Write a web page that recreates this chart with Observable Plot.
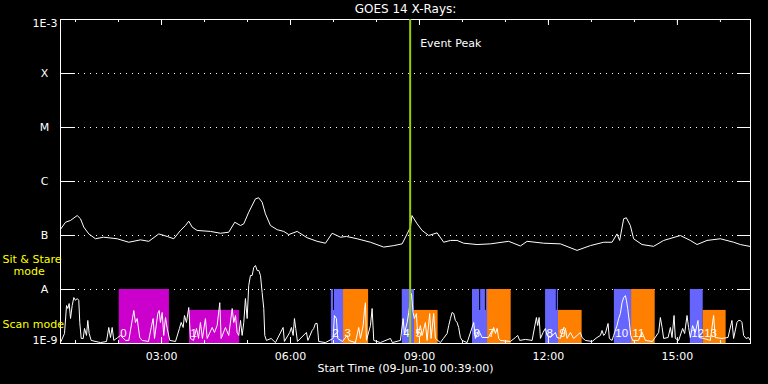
<!DOCTYPE html>
<html><head><meta charset="utf-8">
<script src="https://cdn.jsdelivr.net/npm/d3@7"></script>
<script src="https://cdn.jsdelivr.net/npm/@observablehq/plot@0.6"></script>
<style>html,body{margin:0;padding:0;background:#000;}#chart{width:768px;height:384px;}</style>
</head><body><div id="chart"></div>
<script>
// ---- DATA (times in minutes after 00:00 UT, 09-Jun-2010; flux in W/m^2) ----
const startTime = "00:39";
const endTime = "16:42";
const eventPeakTime = "08:47";

const levelFlux = [1e-3, 1e-4, 1e-5, 1e-6, 1e-7, 1e-8, 1e-9];
const levelLabel = ["1E-3", "X", "M", "C", "B", "A", "1E-9"];

const hourTicks = ["01:00","02:00","03:00","04:00","05:00","06:00","07:00","08:00","09:00","10:00","11:00","12:00","13:00","14:00","15:00","16:00"];
const majorTicks = ["03:00","06:00","09:00","12:00","15:00"];

// GOES 14 long channel (1-8 A)
const longChannel = [[39.5,1.33e-7],[46.0,1.76e-7],[53.0,1.90e-7],[62.3,2.34e-7],[66.9,2.04e-7],[71.5,1.43e-7],[78.5,1.07e-7],[87.8,8.7e-8],[99.0,9.3e-8],[118.1,8.7e-8],[134.3,7.5e-8],[150.6,8.3e-8],[162.2,7.8e-8],[176.2,1.07e-7],[187.9,9.6e-8],[197.1,8.7e-8],[206.4,1.24e-7],[213.4,1.53e-7],[218.0,1.84e-7],[222.8,1.43e-7],[229.7,1.24e-7],[248.3,1.19e-7],[262.3,1.10e-7],[273.8,1.15e-7],[282.2,1.76e-7],[290.2,1.53e-7],[294.8,1.65e-7],[301.7,2.70e-7],[311.1,4.78e-7],[315.7,4.99e-7],[320.4,4.14e-7],[325.0,2.52e-7],[332.0,1.53e-7],[341.4,1.28e-7],[350.6,1.19e-7],[357.5,1.04e-7],[369.3,1.19e-7],[383.2,9.1e-8],[397.2,7.8e-8],[408.8,7.2e-8],[418.1,1.10e-7],[429.7,9.3e-8],[438.1,9.6e-8],[453.0,8.7e-8],[471.6,7.5e-8],[490.1,6.1e-8],[504.1,6.5e-8],[515.8,7.0e-8],[522.8,1.07e-7],[527.4,1.43e-7],[529.5,2.34e-7],[536.7,1.65e-7],[543.7,1.24e-7],[552.9,1.0e-7],[564.6,1.12e-7],[573.8,7.5e-8],[583.2,8.1e-8],[592.5,8.1e-8],[601.7,7.2e-8],[620.4,6.8e-8],[639.0,7.0e-8],[664.5,7.8e-8],[680.8,6.4e-8],[690.2,7.8e-8],[713.4,7.2e-8],[736.7,7.0e-8],[759.9,5.3e-8],[778.5,6.5e-8],[797.1,7.5e-8],[808.8,7.5e-8],[815.7,1.07e-7],[819.4,8.1e-8],[825.0,2.04e-7],[828.7,2.13e-7],[834.3,1.53e-7],[838.9,8.7e-8],[850.6,6.8e-8],[866.8,6.3e-8],[880.8,8.1e-8],[904.1,1.0e-7],[918.0,8.1e-8],[927.4,6.8e-8],[941.3,8.1e-8],[959.9,8.7e-8],[978.5,7.5e-8],[987.8,6.8e-8],[1000.8,6.3e-8]];

// GOES 14 short channel (0.5-4 A)
const shortChannel = [[39.0,1.04e-9],[44.6,1.53e-9],[47.4,5.05e-9],[49.2,4.45e-9],[51.1,5.5e-9],[53.0,2.90e-9],[55.3,5.05e-9],[57.6,7.1e-9],[59.9,6.3e-9],[62.3,6.8e-9],[64.5,6.3e-9],[65.9,2.45e-9],[67.9,1.24e-9],[70.7,1.24e-9],[72.5,1.90e-9],[75.3,1.41e-9],[77.1,2.67e-9],[79.0,1.53e-9],[81.8,1.14e-9],[94.8,1.04e-9],[103.2,1.09e-9],[106.4,1.98e-9],[108.8,1.29e-9],[111.1,1.98e-9],[113.4,1.14e-9],[118.9,1.29e-9],[122.7,1.41e-9],[129.7,1.14e-9],[134.3,1.14e-9],[141.3,4.08e-9],[143.6,2.45e-9],[146.0,2.90e-9],[149.6,1.29e-9],[153.0,1.14e-9],[161.8,1.09e-9],[165.6,1.98e-9],[168.3,2.90e-9],[170.2,1.24e-9],[174.8,3.59e-9],[176.7,4.08e-9],[178.5,2.45e-9],[180.9,3.75e-9],[183.1,1.41e-9],[185.5,3.03e-9],[187.9,1.90e-9],[191.5,1.14e-9],[199.5,1.09e-9],[205.0,1.90e-9],[207.4,2.45e-9],[210.2,1.98e-9],[212.0,3.30e-9],[214.8,2.45e-9],[218.0,4.64e-9],[220.4,1.24e-9],[224.6,1.14e-9],[228.8,1.90e-9],[231.6,1.24e-9],[234.3,2.45e-9],[237.1,1.24e-9],[241.3,2.90e-9],[243.7,1.24e-9],[250.7,1.98e-9],[253.9,1.60e-9],[257.6,2.15e-9],[261.3,5.7e-9],[263.2,1.24e-9],[269.2,1.98e-9],[273.8,1.41e-9],[278.6,4.45e-9],[280.8,2.45e-9],[283.2,3.30e-9],[285.5,1.60e-9],[287.8,1.41e-9],[290.2,2.67e-9],[292.5,1.41e-9],[294.8,2.45e-9],[297.1,6.8e-9],[299.5,2.90e-9],[301.7,1.19e-8],[304.1,1.82e-8],[306.5,1.82e-8],[308.7,2.56e-8],[311.1,2.78e-8],[313.5,2.25e-8],[315.7,2.25e-8],[318.1,1.82e-8],[320.4,8.8e-9],[322.7,4.45e-9],[324.1,1.41e-9],[326.4,1.14e-9],[333.0,1.24e-9],[339.0,1.04e-9],[349.7,1.98e-9],[351.5,1.09e-9],[358.9,1.60e-9],[361.3,1.98e-9],[363.7,1.41e-9],[365.5,2.90e-9],[367.3,1.90e-9],[369.7,1.09e-9],[382.2,1.60e-9],[384.3,1.14e-9],[390.2,1.74e-9],[392.4,1.90e-9],[394.8,2.35e-9],[397.2,2.35e-9],[399.4,1.09e-9],[408.8,1.04e-9],[419.5,1.24e-9],[421.3,3.30e-9],[424.1,2.90e-9],[425.9,1.24e-9],[432.5,1.09e-9],[439.0,1.41e-9],[441.3,1.14e-9],[450.6,1.04e-9],[455.2,1.98e-9],[457.6,1.24e-9],[461.4,2.15e-9],[463.2,4.08e-9],[464.6,5.7e-9],[466.0,1.14e-9],[471.6,2.15e-9],[473.9,4.45e-9],[476.2,1.14e-9],[485.5,1.04e-9],[499.5,1.24e-9],[502.2,1.04e-9],[513.4,1.14e-9],[517.2,2.90e-9],[519.0,1.53e-9],[522.8,2.45e-9],[525.0,3.75e-9],[528.8,8.4e-9],[531.1,3.75e-9],[532.9,2.90e-9],[535.7,3.59e-9],[537.5,1.41e-9],[541.3,2.15e-9],[543.7,1.41e-9],[548.3,2.45e-9],[550.6,1.14e-9],[554.3,3.59e-9],[556.2,1.24e-9],[559.9,3.59e-9],[562.2,1.24e-9],[569.2,1.04e-9],[573.4,1.24e-9],[578.6,1.53e-9],[580.8,2.15e-9],[583.2,2.90e-9],[585.5,3.75e-9],[587.8,3.59e-9],[590.1,2.67e-9],[592.5,2.45e-9],[594.7,1.98e-9],[597.1,1.29e-9],[599.5,1.14e-9],[606.5,1.04e-9],[615.7,2.45e-9],[618.0,1.24e-9],[622.7,1.74e-9],[627.4,1.29e-9],[636.2,1.29e-9],[643.6,1.98e-9],[646.0,1.53e-9],[648.3,1.90e-9],[650.6,1.24e-9],[652.9,1.14e-9],[666.9,1.09e-9],[673.9,1.29e-9],[677.1,1.41e-9],[679.9,1.14e-9],[687.8,1.19e-9],[697.2,1.14e-9],[703.2,3.03e-9],[705.0,2.15e-9],[707.0,3.03e-9],[708.8,1.24e-9],[712.5,1.60e-9],[715.7,1.90e-9],[718.1,1.41e-9],[722.7,1.29e-9],[729.7,1.60e-9],[732.0,1.29e-9],[736.7,1.24e-9],[741.3,1.98e-9],[743.7,1.90e-9],[746.0,1.24e-9],[750.6,1.60e-9],[755.2,1.24e-9],[764.6,1.60e-9],[766.9,1.29e-9],[771.5,1.14e-9],[780.9,1.09e-9],[787.8,1.29e-9],[792.5,1.41e-9],[794.8,1.74e-9],[797.1,1.41e-9],[799.4,1.53e-9],[803.2,2.35e-9],[805.0,1.24e-9],[808.8,1.14e-9],[811.0,1.41e-9],[815.7,2.15e-9],[818.0,2.90e-9],[820.4,3.59e-9],[822.7,5.7e-9],[825.0,7.1e-9],[827.4,7.7e-9],[828.8,6.3e-9],[830.6,4.45e-9],[833.0,2.45e-9],[834.8,1.41e-9],[837.6,1.14e-9],[845.6,1.14e-9],[850.7,1.60e-9],[855.3,1.14e-9],[865.0,1.09e-9],[873.8,1.60e-9],[876.2,3.03e-9],[878.6,1.98e-9],[880.8,1.24e-9],[887.0,1.29e-9],[890.2,1.98e-9],[892.5,1.29e-9],[895.3,3.30e-9],[897.1,1.24e-9],[901.7,1.14e-9],[907.3,1.90e-9],[910.1,1.53e-9],[913.4,3.30e-9],[915.6,1.98e-9],[918.0,1.29e-9],[921.2,2.15e-9],[925.0,1.60e-9],[928.7,2.67e-9],[930.5,1.29e-9],[936.5,1.24e-9],[945.9,1.14e-9],[950.5,3.30e-9],[952.8,1.29e-9],[962.2,1.24e-9],[970.6,1.29e-9],[976.1,2.67e-9],[978.4,1.24e-9],[983.1,2.45e-9],[985.3,2.67e-9],[987.8,2.67e-9],[990.1,2.45e-9],[992.4,1.41e-9],[995.7,1.24e-9],[999.3,1.29e-9],[1001.7,1.14e-9]];

// Observation sequences
const obsId    = [0,1,2,3,4,5,6,7,8,9,10,11,12,13];
const obsStart = ["02:01","03:39","06:57","07:14","08:36","08:53","10:14","10:35","11:56","12:14","13:32","13:56","15:18","15:36"];
const obsEnd   = ["03:11","04:49","07:14","07:49","08:53","09:26","10:35","11:08","12:14","12:47","13:56","14:29","15:36","16:08"];
const obsGroup = ["prog1","prog1","prog2","prog3","prog2","prog3","prog2","prog3","prog2","prog3","prog2","prog3","prog2","prog3"];
const obsMode  = ["stare","scan","stare","stare","stare","scan","stare","stare","stare","scan","stare","stare","stare","scan"];
// short breaks inside some sit & stare sequences
const obsBreaks = ["07:00","10:24","10:32","12:11"];
const modeNames = ["stare", "scan"];
const modeLabel = ["Sit & Stare", "Scan mode"];
const modeTopFlux = [1e-8, 4.1e-9];

const groups = ["prog1", "prog2", "prog3"];
const groupColors = ["#cc00cc", "#6666ff", "#ff8000"];

// ---- BUILD ----
const toMin = s => +s.slice(0, 2) * 60 + +s.slice(3, 5);
const modeTop = m => modeTopFlux[modeNames.indexOf(m)];
const longData = longChannel.map(([t, v]) => ({t, v}));
const shortData = shortChannel.map(([t, v]) => ({t, v}));
const obs = obsId.map((id, i) => ({id, start: toMin(obsStart[i]), end: toMin(obsEnd[i]), group: obsGroup[i], mode: obsMode[i]}));
const breaks = obsBreaks.map(toMin);
const levels = levelFlux.map((v, i) => ({v, label: levelLabel[i]}));
const letterLevels = levels.slice(1, -1);
const eventPeak = toMin(eventPeakTime);
const hours = hourTicks.map(toMin);
const majors = majorTicks.map(toMin);

const W = 768, H = 384, mL = 60, mR = 18, mT = 19, mB = 41;
const pw = W - mL - mR, ph = H - mT - mB;
const white = "#ffffff";
const font = "DejaVu Sans";

const chart = Plot.plot({
  width: W, height: H,
  marginLeft: mL, marginRight: mR, marginTop: mT, marginBottom: mB,
  style: {background: "#000", color: white, fontFamily: font, fontSize: "11px"},
  x: {domain: [toMin(startTime), toMin(endTime)], axis: null},
  y: {type: "log", domain: [levelFlux[6], levelFlux[0]], axis: null},
  color: {domain: groups, range: groupColors},
  marks: [
    // dotted level lines
    Plot.ruleY(letterLevels, {y: "v", stroke: white, strokeDasharray: "1,5", strokeWidth: 1.2}),
    // observation blocks
    Plot.rectY(obs, {x1: "start", x2: "end", y1: () => levelFlux[6], y2: d => modeTop(d.mode), fill: "group"}),
    Plot.ruleX(breaks, {x: d => d, y1: () => modeTopFlux[0], y2: () => modeTopFlux[1], stroke: "#000", strokeWidth: 1}),
    // curves
    Plot.line(shortData, {x: "t", y: "v", stroke: white, strokeWidth: 1}),
    Plot.line(longData, {x: "t", y: "v", stroke: white, strokeWidth: 1}),
    // obs labels
    Plot.text(obs, {x: "start", frameAnchor: "bottom", dy: -10, dx: 1, text: d => String(d.id), textAnchor: "start", lineAnchor: "middle", fill: white, fontSize: 11.5, fontFamily: "Liberation Sans"}),
    // y ticks left & right
    Plot.ruleY(levels, {y: "v", stroke: white, insetRight: pw - 15}),
    Plot.ruleY(levels, {y: "v", stroke: white, insetLeft: pw - 13}),
    // x ticks top & bottom
    Plot.ruleX(hours, {x: d => d, stroke: white, insetBottom: ph - 3}),
    Plot.ruleX(majors, {x: d => d, stroke: white, insetBottom: ph - 6}),
    Plot.ruleX(hours, {x: d => d, stroke: white, insetTop: ph - 3}),
    Plot.ruleX(majors, {x: d => d, stroke: white, insetTop: ph - 6}),
    Plot.frame({stroke: white}),
    // event peak
    Plot.ruleX([eventPeak], {x: d => d, stroke: "#99cc00", strokeWidth: 2}),
    Plot.text([eventPeak], {x: d => d, frameAnchor: "top", dy: 24, dx: 10, text: () => "Event Peak", textAnchor: "start", lineAnchor: "middle", fill: white, fontSize: 11}),
    // y labels
    Plot.text(letterLevels, {y: "v", text: "label", frameAnchor: "left", dx: -16, textAnchor: "middle", lineAnchor: "middle", fill: white, fontSize: 11}),
    Plot.text([levels[0]], {y: "v", text: "label", frameAnchor: "left", dx: -3, dy: 4, textAnchor: "end", lineAnchor: "middle", fill: white, fontSize: 11}),
    Plot.text([levels[6]], {y: "v", text: "label", frameAnchor: "left", dx: -3, dy: -3, textAnchor: "end", lineAnchor: "middle", fill: white, fontSize: 11}),
    // mode labels
    Plot.text([modeTopFlux[0]], {y: d => d, text: () => modeLabel[0], frameAnchor: "left", dx: -58, dy: -30, textAnchor: "start", lineAnchor: "middle", fill: "#ffff00", fontSize: 11}),
    Plot.text([modeTopFlux[0]], {y: d => d, text: () => "mode", frameAnchor: "left", dx: -47, dy: -18, textAnchor: "start", lineAnchor: "middle", fill: "#ffff00", fontSize: 11}),
    Plot.text([modeTopFlux[1]], {y: d => d, text: () => modeLabel[1], frameAnchor: "left", dx: -58, dy: 14, textAnchor: "start", lineAnchor: "middle", fill: "#ffff00", fontSize: 11}),
    // x tick labels
    Plot.text(majors, {x: d => d, text: (d, i) => majorTicks[i], frameAnchor: "bottom", dy: 13, lineAnchor: "middle", fill: white, fontSize: 11}),
    Plot.text(["Start Time (09-Jun-10 00:39:00)"], {text: d => d, frameAnchor: "bottom", dy: 25, lineAnchor: "middle", fill: white, fontSize: 11}),
    // title
    Plot.text(["GOES 14 X-Rays:"], {text: d => d, frameAnchor: "top", dy: -10, lineAnchor: "middle", fill: white, fontSize: 12})
  ]
});
document.getElementById("chart").appendChild(chart);
</script>
</body></html>
